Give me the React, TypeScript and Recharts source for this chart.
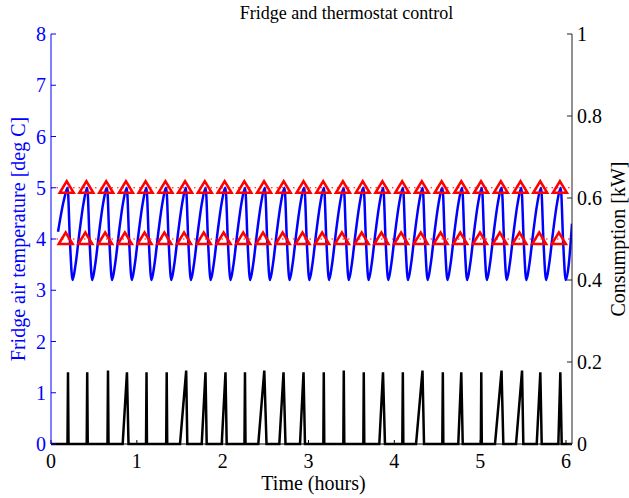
import { ComposedChart, Line, Scatter, XAxis, YAxis } from 'recharts'

const hourTicks = [0, 1, 2, 3, 4, 5, 6]
const tempTicks = [0, 1, 2, 3, 4, 5, 6, 7, 8]
const kwTicks = [0, 0.2, 0.4, 0.6, 0.8, 1]

// thermostat band and the moments it was hit
const upperLimit = 5
const lowerLimit = 4
const bandHours = [0, 6.07]
const upperMarkHours = [
  0.183, 0.412, 0.643, 0.873, 1.102, 1.333, 1.562, 1.792, 2.023, 2.252, 2.482, 2.711, 2.942,
  3.171, 3.401, 3.632, 3.861, 4.091, 4.32, 4.551, 4.78, 5.01, 5.241, 5.47, 5.7, 5.929,
]
const lowerMarkHours = [
  0.171, 0.4, 0.631, 0.861, 1.09, 1.321, 1.55, 1.78, 2.011, 2.24, 2.47, 2.699, 2.93,
  3.159, 3.389, 3.62, 3.849, 4.079, 4.308, 4.539, 4.768, 4.998, 5.229, 5.458, 5.688, 5.917,
]

// fridge air temperature
const tempHours = [
  0.082, 0.149,
  0.193, 0.222, 0.251, 0.286, 0.333, 0.379,
  0.422, 0.451, 0.48, 0.515, 0.562, 0.608,
  0.653, 0.682, 0.711, 0.746, 0.793, 0.839,
  0.883, 0.912, 0.941, 0.976, 1.023, 1.069,
  1.112, 1.141, 1.17, 1.205, 1.252, 1.298,
  1.343, 1.372, 1.401, 1.436, 1.483, 1.529,
  1.572, 1.601, 1.63, 1.665, 1.712, 1.758,
  1.802, 1.831, 1.86, 1.895, 1.942, 1.988,
  2.033, 2.062, 2.091, 2.126, 2.173, 2.219,
  2.262, 2.291, 2.32, 2.355, 2.402, 2.448,
  2.492, 2.521, 2.55, 2.585, 2.632, 2.678,
  2.721, 2.75, 2.779, 2.814, 2.861, 2.907,
  2.952, 2.981, 3.01, 3.045, 3.092, 3.138,
  3.181, 3.21, 3.239, 3.274, 3.321, 3.367,
  3.411, 3.44, 3.469, 3.504, 3.551, 3.597,
  3.642, 3.671, 3.7, 3.735, 3.782, 3.828,
  3.871, 3.9, 3.929, 3.964, 4.011, 4.057,
  4.101, 4.13, 4.159, 4.194, 4.241, 4.287,
  4.33, 4.359, 4.388, 4.423, 4.47, 4.516,
  4.561, 4.59, 4.619, 4.654, 4.701, 4.747,
  4.79, 4.819, 4.848, 4.883, 4.93, 4.976,
  5.02, 5.049, 5.078, 5.113, 5.16, 5.206,
  5.251, 5.28, 5.309, 5.344, 5.391, 5.437,
  5.48, 5.509, 5.538, 5.573, 5.62, 5.666,
  5.71, 5.739, 5.768, 5.803, 5.85, 5.896,
  5.939, 5.968, 5.997, 6.032, 6.07,
]
const tempDeg = [
  4.14, 4.75,
  5, 3.9, 3.2, 3.5, 4.15, 4.7,
  5, 3.9, 3.2, 3.5, 4.15, 4.7,
  5, 3.9, 3.2, 3.5, 4.15, 4.7,
  5, 3.9, 3.2, 3.5, 4.15, 4.7,
  5, 3.9, 3.2, 3.5, 4.15, 4.7,
  5, 3.9, 3.2, 3.5, 4.15, 4.7,
  5, 3.9, 3.2, 3.5, 4.15, 4.7,
  5, 3.9, 3.2, 3.5, 4.15, 4.7,
  5, 3.9, 3.2, 3.5, 4.15, 4.7,
  5, 3.9, 3.2, 3.5, 4.15, 4.7,
  5, 3.9, 3.2, 3.5, 4.15, 4.7,
  5, 3.9, 3.2, 3.5, 4.15, 4.7,
  5, 3.9, 3.2, 3.5, 4.15, 4.7,
  5, 3.9, 3.2, 3.5, 4.15, 4.7,
  5, 3.9, 3.2, 3.5, 4.15, 4.7,
  5, 3.9, 3.2, 3.5, 4.15, 4.7,
  5, 3.9, 3.2, 3.5, 4.15, 4.7,
  5, 3.9, 3.2, 3.5, 4.15, 4.7,
  5, 3.9, 3.2, 3.5, 4.15, 4.7,
  5, 3.9, 3.2, 3.5, 4.15, 4.7,
  5, 3.9, 3.2, 3.5, 4.15, 4.7,
  5, 3.9, 3.2, 3.5, 4.15, 4.7,
  5, 3.9, 3.2, 3.5, 4.15, 4.7,
  5, 3.9, 3.2, 3.5, 4.15, 4.7,
  5, 3.9, 3.2, 3.5, 4.15, 4.7,
  5, 3.9, 3.2, 3.5, 4.3,
]

// compressor pulses: ramp start, top, drop back to zero
const spikeStart = [
  0.192, 0.416, 0.658, 0.835, 1.107, 1.342, 1.503, 1.756, 1.989, 2.254, 2.415, 2.66, 2.901,
  3.173, 3.406, 3.639, 3.825, 4.093, 4.253, 4.559, 4.745, 5.008, 5.173, 5.418, 5.659, 5.911,
]
const spikeTop = [
  0.198, 0.422, 0.664, 0.885, 1.113, 1.348, 1.575, 1.8, 2.033, 2.26, 2.485, 2.709, 2.942,
  3.178, 3.411, 3.644, 3.868, 4.099, 4.328, 4.565, 4.78, 5.013, 5.249, 5.488, 5.701, 5.934,
]
const spikeEnd = [
  0.204, 0.428, 0.67, 0.903, 1.118, 1.354, 1.588, 1.814, 2.047, 2.266, 2.511, 2.732, 2.959,
  3.184, 3.417, 3.65, 3.891, 4.105, 4.346, 4.571, 4.797, 5.019, 5.27, 5.503, 5.717, 5.95,
]
const spikeKw = [
  0.175, 0.175, 0.179, 0.175, 0.175, 0.175, 0.179, 0.175, 0.175, 0.175, 0.179, 0.175, 0.175,
  0.175, 0.179, 0.175, 0.175, 0.175, 0.179, 0.175, 0.175, 0.175, 0.179, 0.179, 0.175, 0.175,
]

const serif = '"Liberation Serif", "Times New Roman", serif'
const blue = '#0000ff'
const red = '#ff0000'

const tempData = tempHours.map((t, i) => ({ t, v: tempDeg[i] }))
const powerData = [{ t: 0, kw: 0 }]
spikeStart.forEach((s, i) => {
  powerData.push({ t: s, kw: 0 }, { t: spikeTop[i], kw: spikeKw[i] }, { t: spikeEnd[i], kw: 0 })
})
powerData.push({ t: 6.07, kw: 0 })
const upperMarks = upperMarkHours.map((t) => ({ t, v: upperLimit }))
const lowerMarks = lowerMarkHours.map((t) => ({ t, v: lowerLimit }))
const upperBand = bandHours.map((t) => ({ t, v: upperLimit }))
const lowerBand = bandHours.map((t) => ({ t, v: lowerLimit }))

const Triangle = (props: any) => {
  const { cx, cy } = props
  return (
    <polygon
      points={`${cx},${cy - 6.5} ${cx + 7},${cy + 5} ${cx - 7},${cy + 5}`}
      fill="none"
      stroke={red}
      strokeWidth={2.5}
      strokeLinejoin="miter"
    />
  )
}

const AxisTick = (props: any) => {
  const { x, y, payload, anchor, color, below } = props
  return (
    <text
      x={x}
      y={y}
      textAnchor={anchor}
      dominantBaseline={below ? 'hanging' : 'central'}
      fill={color}
      fontSize={20}
      fontFamily={serif}
    >
      {String(payload.value)}
    </text>
  )
}

const SideLabel = (props: any) => {
  const { viewBox, value, dx, fill } = props
  const x = viewBox.x + dx
  const y = viewBox.y + viewBox.height / 2
  return (
    <text
      x={x}
      y={y}
      transform={`rotate(-90 ${x} ${y})`}
      textAnchor="middle"
      dominantBaseline="central"
      fill={fill}
      fontSize={20}
      fontFamily={serif}
    >
      {value}
    </text>
  )
}

const BottomLabel = (props: any) => {
  const { viewBox, value } = props
  return (
    <text
      x={viewBox.x + viewBox.width / 2 + 2}
      y={viewBox.y + 46}
      textAnchor="middle"
      fill="#000"
      fontSize={20}
      fontFamily={serif}
    >
      {value}
    </text>
  )
}

export default function App() {
  return (
    <div style={{ position: 'absolute', left: 0, top: 0, width: 629, height: 498, background: '#fff' }}>
      <div
        style={{
          position: 'absolute',
          left: 86,
          width: 521,
          top: 3,
          textAlign: 'center',
          fontFamily: serif,
          fontSize: 18,
          lineHeight: '20px',
          color: '#000',
        }}
      >
        Fridge and thermostat control
      </div>
      <ComposedChart width={629} height={498} margin={{ top: 34, right: 0, bottom: 0, left: 0 }}>
        <XAxis
          dataKey="t"
          type="number"
          domain={[0, 6.07]}
          allowDataOverflow
          ticks={hourTicks}
          interval={0}
          height={54}
          tickSize={-4}
          tickMargin={14}
          stroke="#000"
          tick={<AxisTick anchor="middle" color="#000" below />}
          label={<BottomLabel value="Time (hours)" />}
        />
        <YAxis
          yAxisId="temp"
          type="number"
          domain={[0, 8]}
          ticks={tempTicks}
          interval={0}
          width={51}
          tickSize={-5}
          tickMargin={10}
          stroke={blue}
          tick={<AxisTick anchor="end" color={blue} />}
          label={<SideLabel value="Fridge air temperature [deg C]" dx={18} fill={blue} />}
        />
        <YAxis
          yAxisId="kw"
          orientation="right"
          type="number"
          domain={[0, 1]}
          ticks={kwTicks}
          interval={0}
          width={57}
          tickSize={-5}
          tickMargin={10}
          stroke="#222"
          tick={<AxisTick anchor="start" color="#000" />}
          label={<SideLabel value="Consumption [kW]" dx={46} fill="#000" />}
        />
        <Line
          yAxisId="kw"
          data={powerData}
          dataKey="kw"
          type="linear"
          stroke="#000"
          strokeWidth={2.5}
          dot={false}
          isAnimationActive={false}
        />
        <Line
          yAxisId="temp"
          data={tempData}
          dataKey="v"
          type="monotone"
          stroke={blue}
          strokeWidth={2.5}
          dot={false}
          isAnimationActive={false}
        />
        <Line
          yAxisId="temp"
          data={upperBand}
          dataKey="v"
          stroke={red}
          strokeWidth={1.2}
          strokeDasharray="1.5 4"
          dot={false}
          isAnimationActive={false}
        />
        <Line
          yAxisId="temp"
          data={lowerBand}
          dataKey="v"
          stroke={red}
          strokeWidth={1.2}
          strokeDasharray="1.5 4"
          dot={false}
          isAnimationActive={false}
        />
        <Scatter
          yAxisId="temp"
          data={upperMarks}
          dataKey="v"
          shape={<Triangle />}
          isAnimationActive={false}
        />
        <Scatter
          yAxisId="temp"
          data={lowerMarks}
          dataKey="v"
          shape={<Triangle />}
          isAnimationActive={false}
        />
      </ComposedChart>
    </div>
  )
}
